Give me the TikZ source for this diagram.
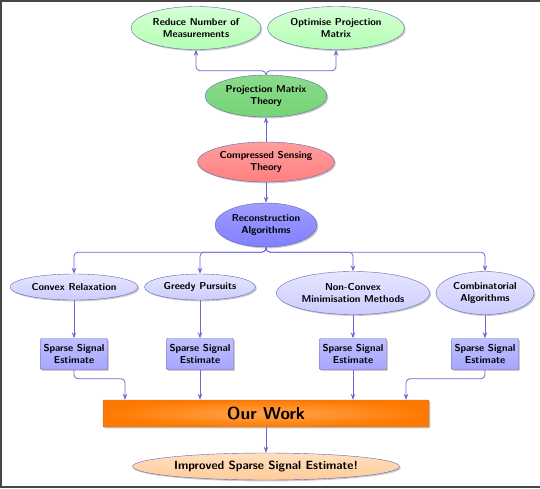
\documentclass[tikz,border=0pt]{standalone}
\usepackage{tikz}
\usetikzlibrary{arrows.meta,positioning,calc,shapes.geometric,shadows}
\definecolor{linkblue}{RGB}{112,102,214}
\definecolor{rimblue}{RGB}{100,100,180}
\definecolor{framegray}{RGB}{70,70,70}
\definecolor{theorygreen}{RGB}{118,212,118}

\begin{document}
\begin{tikzpicture}[x=1pt,y=-1pt,
  every node/.style={draw=rimblue,font=\fontsize{10}{12}\selectfont\sffamily\bfseries,align=center,inner sep=1pt,
    drop shadow={opacity=0.4,shadow xshift=1.4pt,shadow yshift=-1.4pt}},
  goalnode/.style={ellipse,minimum height=43pt,top color=green!16,bottom color=green!30},
  theorynode/.style={ellipse,minimum height=42pt},
  methodnode/.style={ellipse,top color=blue!10,bottom color=blue!20},
  estbox/.style={rectangle,rounded corners=1pt,minimum width=67pt,minimum height=31pt,
    top color=blue!25,bottom color=blue!35},
  flow/.style={draw=linkblue,line width=0.8pt,-{Stealth[length=6pt,width=4.5pt]},rounded corners=4pt}]
\useasboundingbox (0,0) rectangle (540,488);
\draw[framegray,line width=2.5pt] (541,1.2) -- (1.2,1.2) -- (1.2,486.8) -- (541,486.8);

% theory part
\node[goalnode,minimum width=130pt] (reduce) at (196,28) {Reduce Number of\\Measurements};
\node[goalnode,minimum width=137pt] (optim) at (336,28) {Optimise Projection\\Matrix};
\node[theorynode,minimum width=122pt,top color=theorygreen!85,bottom color=theorygreen] (pmt) at (266,96) {Projection Matrix\\Theory};
\node[theorynode,minimum width=137pt,minimum height=40pt,top color=red!38,bottom color=red!50] (cst) at (266,162) {Compressed Sensing\\Theory};
\node[theorynode,minimum width=102pt,minimum height=44pt,top color=blue!38,bottom color=blue!50] (recon) at (266,225) {Reconstruction\\Algorithms};

% algorithm families
\node[methodnode,minimum width=128pt,minimum height=26pt] (convex) at (74,287) {Convex Relaxation};
\node[methodnode,minimum width=111pt,minimum height=26pt] (greedy) at (200,287) {Greedy Pursuits};
\node[methodnode,minimum width=153pt,minimum height=43pt] (nonconvex) at (353,293) {Non-Convex\\Minimisation Methods};
\node[methodnode,minimum width=98pt,minimum height=43pt] (combi) at (485,293) {Combinatorial\\Algorithms};

\node[estbox] (est1) at (74,354) {Sparse Signal\\Estimate};
\node[estbox] (est2) at (200,354) {Sparse Signal\\Estimate};
\node[estbox] (est3) at (353,354) {Sparse Signal\\Estimate};
\node[estbox] (est4) at (485,354) {Sparse Signal\\Estimate};

\node[rectangle,draw=gray,rounded corners=1pt,minimum width=326pt,minimum height=27pt,font=\fontsize{17.3}{19}\selectfont\sffamily\bfseries,
  inner color=orange!70,outer color=orange!95!red] (ourwork) at (266,413.5) {Our Work};
\node[ellipse,minimum width=267pt,minimum height=27pt,font=\fontsize{11.9}{14}\selectfont\sffamily\bfseries,
  top color=orange!25,bottom color=orange!40] (improved) at (266,466.5) {Improved Sparse Signal Estimate!};

% connectors
\draw[flow] (pmt.north) -- ++(0,-4) -| (reduce.south);
\draw[flow] (pmt.north) -- ++(0,-4) -| (optim.south);
\draw[flow] (cst.north) -- (pmt.south);
\draw[flow] (cst.south) -- (recon.north);
\foreach \fam in {convex,greedy,nonconvex,combi}
  \draw[flow] (recon.south) -- ++(0,5) -| (\fam.north);
\foreach \fam/\est in {convex/est1,greedy/est2,nonconvex/est3,combi/est4}
  \draw[flow] (\fam.south) -- (\est.north);
\draw[flow] (est1.south) -- ++(0,9) -| ([xshift=-141pt]ourwork.north);
\draw[flow] (est2.south) -- (est2.south |- ourwork.north);
\draw[flow] (est3.south) -- (est3.south |- ourwork.north);
\draw[flow] (est4.south) -- ++(0,9) -| ([xshift=140pt]ourwork.north);
\draw[flow] (ourwork.south) -- (improved.north);
\end{tikzpicture}
\end{document}
